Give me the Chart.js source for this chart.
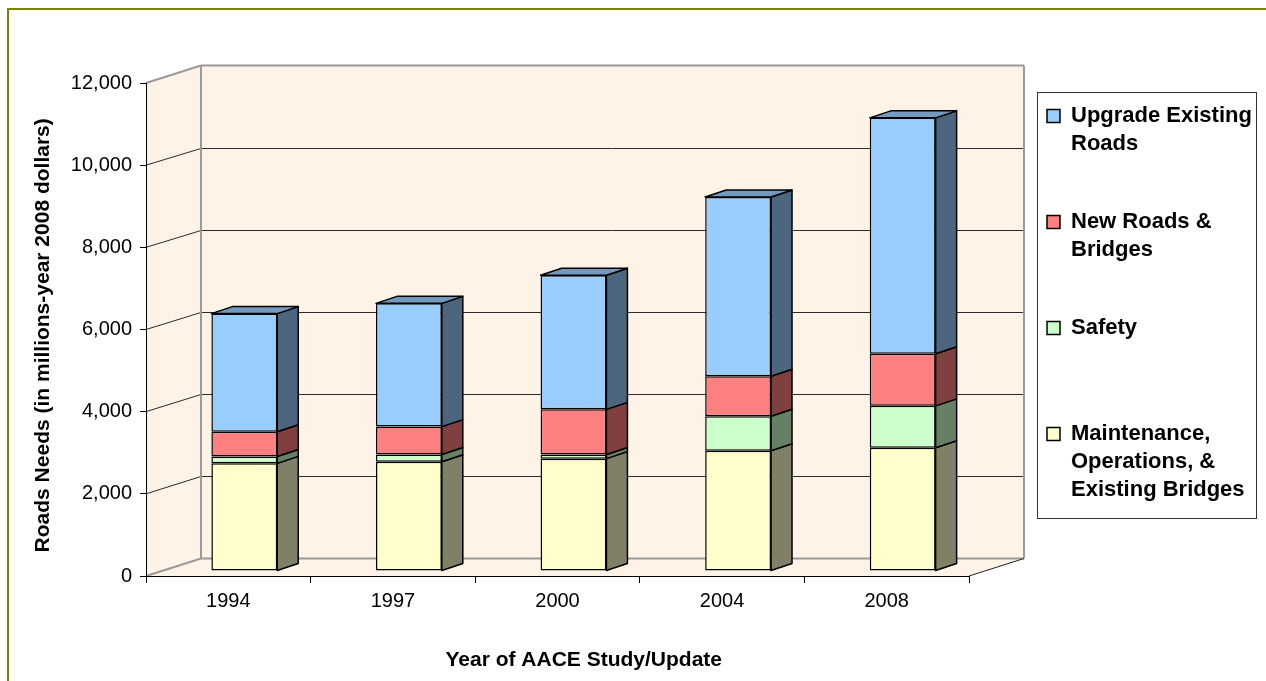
<!DOCTYPE html>
<html>
<head>
<meta charset="utf-8">
<script src="https://cdn.jsdelivr.net/npm/chart.js@4.4.1/dist/chart.umd.min.js"></script>
<style>
html,body{margin:0;padding:0;background:#fff;}
#wrap{width:1266px;height:681px;position:relative;}
</style>
</head>
<body>
<div id="wrap"><canvas id="c" width="1266" height="681"></canvas></div>
<script>
// ---- data ----
const categories = ['1994', '1997', '2000', '2004', '2008'];
const maintenance = [2620, 2660, 2735, 2925, 3000];
const safety = [165, 175, 100, 840, 1020];
const newRoads = [605, 680, 1100, 975, 1270];
const upgrade = [2875, 3000, 3265, 4365, 5740];
const yTicks = [0, 2000, 4000, 6000, 8000, 10000, 12000];
const seriesNames = ['Maintenance, Operations, & Existing Bridges', 'Safety', 'New Roads & Bridges', 'Upgrade Existing Roads'];
const legendLines = [
  ['Maintenance,', 'Operations, &', 'Existing Bridges'],
  ['Safety', '', ''],
  ['New Roads &', 'Bridges', ''],
  ['Upgrade Existing', 'Roads', '']
];
const xTitle = '         Year of AACE Study/Update';
const yTitle = 'Roads Needs (in millions-year 2008 dollars)  ';

// ---- styles ----
const FRONT = ['#FFFFCC', '#CCFFCC', '#FF8080', '#99CCFF'];
const SIDE = ['#808066', '#668066', '#804040', '#4D6680'];
const TOP = ['#BFBF99', '#99BF99', '#BF6060', '#7399BF'];
const WALL = {dx: 55, dy: -17.5, fill: '#FFF2E6'};
const BAR = {dx: 16, dy: -5, sdx: 21, sdy: -7};
const PLOT_RIGHT = 969;
const PAD_RIGHT = 13;
const LEGEND_W = 228;

Chart.defaults.font.family = '"Liberation Sans", Arial, sans-serif';
Chart.defaults.color = '#000';

function poly(ctx, pts, fill, stroke, lw) {
  ctx.beginPath();
  ctx.moveTo(pts[0][0], pts[0][1]);
  for (let i = 1; i < pts.length; i++) ctx.lineTo(pts[i][0], pts[i][1]);
  ctx.closePath();
  if (fill) { ctx.fillStyle = fill; ctx.fill(); }
  if (stroke) { ctx.strokeStyle = stroke; ctx.lineWidth = lw || 1; ctx.stroke(); }
}
function line(ctx, x1, y1, x2, y2, color, lw) {
  ctx.beginPath();
  ctx.moveTo(x1, y1);
  ctx.lineTo(x2, y2);
  ctx.strokeStyle = color;
  ctx.lineWidth = lw;
  ctx.stroke();
}

const depth3d = {
  id: 'depth3d',
  beforeDraw(chart) {
    const {ctx, chartArea: a, scales: {y}} = chart;
    const dx = WALL.dx, dy = WALL.dy;
    const L = a.left, R = a.right, T = y.getPixelForValue(y.max), B = y.getPixelForValue(y.min);
    ctx.save();
    poly(ctx, [[L + dx, T + dy], [R + dx, T + dy], [R + dx, B + dy], [L + dx, B + dy]], WALL.fill);
    poly(ctx, [[L, T], [L + dx, T + dy], [L + dx, B + dy], [L, B]], WALL.fill);
    poly(ctx, [[L, B], [L + dx, B + dy], [R + dx, B + dy], [R, B]], WALL.fill);
    y.ticks.forEach(t => {
      if (t.value === y.min || t.value === y.max) return;
      const py = y.getPixelForValue(t.value);
      const by = Math.round(py + dy) + 0.5;
      line(ctx, L, py, L + dx, by, '#2b2b2b', 1);
      line(ctx, L + dx, by, R + dx, by, '#2b2b2b', 1);
    });
    const g = '#9a9a9a';
    line(ctx, L, T, L + dx, T + dy, g, 2);
    line(ctx, L + dx, T + dy, R + dx, T + dy, g, 2);
    line(ctx, R + dx, T + dy, R + dx, B + dy, g, 2);
    line(ctx, L + dx, T + dy, L + dx, B + dy, g, 2);
    line(ctx, L + dx, B + dy, R + dx, B + dy, g, 2);
    line(ctx, L, B, L + dx, B + dy, g, 2);
    line(ctx, R, B, R + dx, B + dy, '#222', 1);
    ctx.restore();
  },
  beforeDatasetsDraw(chart) {
    chart.ctx.save();
    chart.ctx.translate(BAR.dx, BAR.dy);
  },
  afterDatasetsDraw(chart) {
    const ctx = chart.ctx;
    const n = chart.data.datasets.length;
    ctx.lineJoin = 'round';
    for (let di = 0; di < n; di++) {
      const meta = chart.getDatasetMeta(di);
      meta.data.forEach(bar => {
        const p = bar.getProps(['x', 'y', 'base', 'width'], true);
        const l = p.x - p.width / 2, r = p.x + p.width / 2;
        const top = Math.min(p.y, p.base), bot = Math.max(p.y, p.base);
        poly(ctx, [[r, top], [r + BAR.sdx, top + BAR.sdy], [r + BAR.sdx, bot + BAR.sdy], [r, bot]], SIDE[di], '#000', 1.5);
        if (di === n - 1) {
          poly(ctx, [[l, top], [l + BAR.sdx, top + BAR.sdy], [r + BAR.sdx, top + BAR.sdy], [r, top]], TOP[di], '#000', 1.5);
        }
      });
    }
    ctx.restore();
  },
  afterDraw(chart) {
    const ctx = chart.ctx;
    const lg = chart.legend;
    ctx.save();
    const pad = lg.options.labels.padding;
    const lx = Math.round(lg.left + pad - 10) + 0.5;
    const ly = Math.round(lg.top + 9) + 0.5;
    ctx.strokeStyle = '#333';
    ctx.lineWidth = 1;
    ctx.strokeRect(lx, ly, 219, 426);
    line(ctx, 8, 9, 8, chart.height + 5, '#808000', 2);
    line(ctx, 7, 9, chart.width + 5, 9, '#808000', 2);
    ctx.restore();
  }
};

const datasets = [maintenance, safety, newRoads, upgrade].map((vals, i) => ({
  label: seriesNames[i],
  data: vals,
  backgroundColor: FRONT[i],
  borderColor: '#000',
  borderWidth: 1.5,
  borderSkipped: false,
  categoryPercentage: 1,
  barPercentage: 0.4,
  clip: false
}));

new Chart(document.getElementById('c'), {
  type: 'bar',
  data: {labels: categories, datasets},
  plugins: [depth3d],
  options: {
    responsive: false,
    animation: false,
    devicePixelRatio: 1,
    layout: {padding: {left: 0, top: 83, right: PAD_RIGHT, bottom: 0}},
    plugins: {
      tooltip: {enabled: false},
      legend: {
        position: 'right',
        align: 'start',
        maxWidth: LEGEND_W,
        reverse: true,
        labels: {
          boxWidth: 13,
          boxHeight: 13,
          padding: 22,
          color: '#000',
          font: {size: 22, weight: 'bold', lineHeight: '28px'},
          generateLabels(chart) {
            const items = Chart.defaults.plugins.legend.labels.generateLabels(chart);
            items.forEach(it => { it.text = legendLines[it.datasetIndex]; it.lineWidth = 1.5; });
            return items;
          }
        }
      }
    },
    scales: {
      x: {
        stacked: true,
        afterFit(s) { s.height = 105; },
        grid: {offset: true, drawOnChartArea: false, drawTicks: true, tickLength: 7, color: '#000'},
        border: {display: true, color: '#000', width: 1},
        ticks: {padding: 6, font: {size: 20}, color: '#000', maxRotation: 0},
        title: {display: true, text: xTitle, font: {size: 21, weight: 'bold'}, color: '#000', padding: {top: 0, bottom: 8}}
      },
      y: {
        stacked: true,
        min: 0,
        max: 12000,
        afterFit(s) { s.width = 146; },
        afterBuildTicks(s) { s.ticks = yTicks.map(v => ({value: v})); },
        grid: {drawOnChartArea: false, drawTicks: true, tickLength: 6, color: '#000'},
        border: {display: true, color: '#000', width: 1},
        ticks: {padding: 8, font: {size: 20}, color: '#000', callback: v => Number(v).toLocaleString('en-US')},
        title: {display: true, text: yTitle, font: {size: 21, weight: 'bold'}, color: '#000', padding: {top: 31, bottom: 0}}
      },
      spacer: {
        type: 'linear',
        position: 'right',
        display: true,
        afterFit(s) { s.width = s.chart.width - PAD_RIGHT - s.chart.legend.width - PLOT_RIGHT; },
        grid: {display: false, drawTicks: false},
        border: {display: false},
        ticks: {display: false}
      }
    }
  }
});
</script>
</body>
</html>
